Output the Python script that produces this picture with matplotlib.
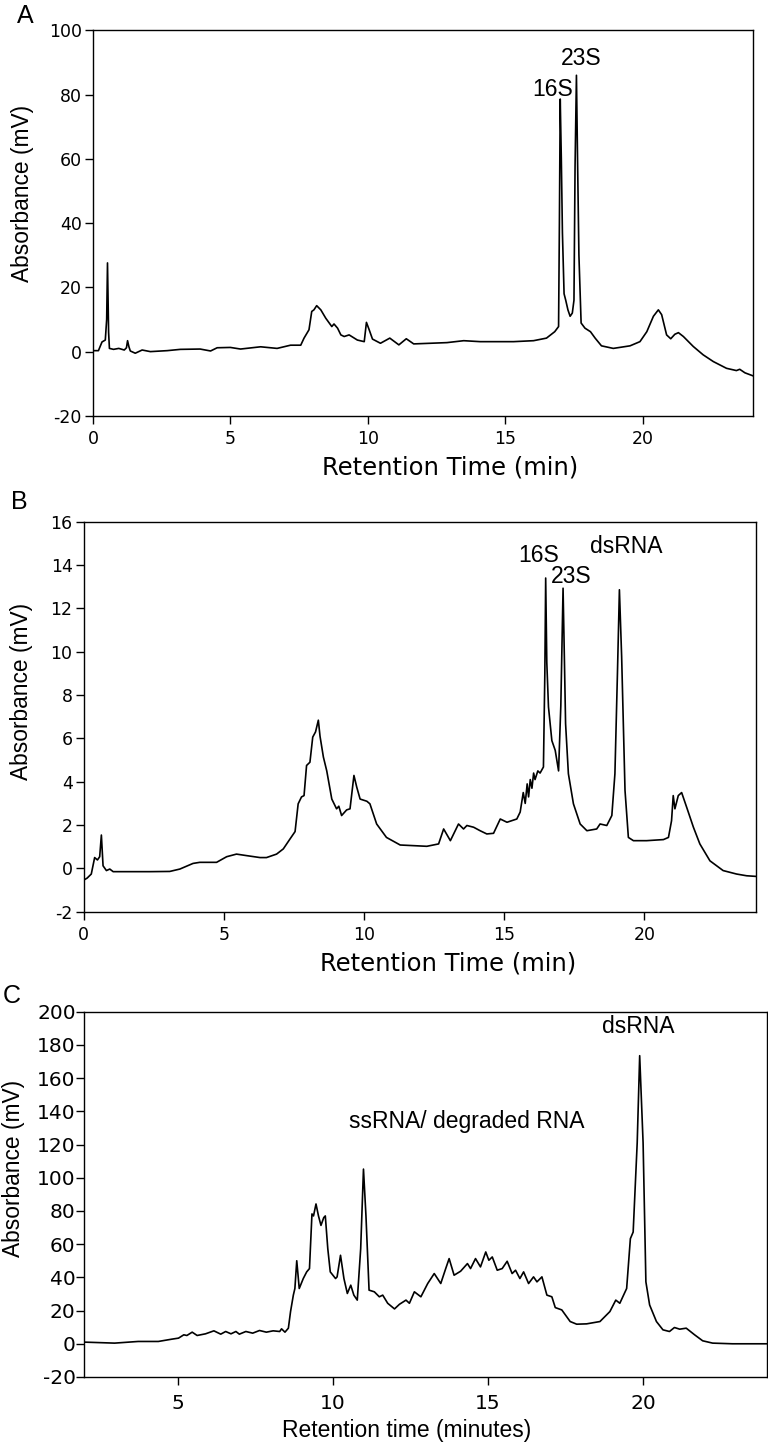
import numpy as np
import matplotlib.pyplot as plt

plt.rcParams['font.family'] = ['Liberation Sans', 'DejaVu Sans']
plt.rcParams['axes.unicode_minus'] = False

# panel A: retention time (min) / absorbance (mV)
a_time = [0.0, 0.2, 0.33, 0.45, 0.5, 0.53, 0.57, 0.6, 0.75, 0.94, 1.14, 1.22, 1.26, 1.31, 1.36, 1.54, 1.79,
          2.09, 2.7, 3.18, 3.9, 4.28, 4.52, 5.0, 5.37, 6.1, 6.7, 7.19, 7.56, 7.68, 7.86, 7.96, 8.04, 8.14,
          8.29, 8.47, 8.69, 8.77, 8.9, 9.02, 9.14, 9.32, 9.62, 9.87, 9.95, 10.05, 10.17, 10.46, 10.8,
          11.13, 11.4, 11.67, 12.28, 12.88, 13.49, 14.09, 14.7, 15.3, 16.03, 16.5, 16.8, 16.94, 16.97,
          17.0, 17.04, 17.08, 17.14, 17.2, 17.28, 17.36, 17.44, 17.5, 17.54, 17.59, 17.63, 17.68, 17.76,
          17.9, 18.1, 18.27, 18.5, 18.93, 19.54, 19.9, 20.15, 20.39, 20.57, 20.69, 20.87, 21.02, 21.17,
          21.3, 21.48, 21.84, 22.2, 22.57, 23.05, 23.41, 23.53, 23.72, 24.0]
a_abs = [0.3, 0.3, 3.0, 3.6, 10.0, 27.6, 6.0, 1.0, 0.7, 1.0, 0.5, 1.2, 3.4, 1.5, 0.2, -0.5, 0.5,
         0.0, 0.3, 0.7, 0.8, 0.2, 1.2, 1.3, 0.8, 1.5, 1.0, 2.0, 2.0, 4.2, 6.8, 12.5, 13.0, 14.3,
         13.0, 10.4, 7.8, 8.6, 7.3, 5.2, 4.7, 5.2, 3.6, 3.1, 9.1, 6.8, 3.9, 2.6, 4.2,
         2.1, 4.0, 2.4, 2.6, 2.8, 3.4, 3.1, 3.1, 3.1, 3.4, 4.2, 6.2, 7.8, 40.0,
         78.6, 60.0, 37.0, 18.0, 16.0, 13.0, 11.0, 12.0, 16.0, 57.8, 86.0, 60.0, 30.0, 8.9,
         7.3, 6.2, 4.2, 1.8, 1.0, 1.8, 3.1, 6.2, 11.0, 13.0, 11.5, 5.2, 4.0, 5.4,
         5.9, 4.7, 1.6, -1.0, -3.1, -5.2, -5.9, -5.5, -6.6, -7.5]

# panel B
b_time = [0.0, 0.12, 0.27, 0.39, 0.49, 0.57, 0.63, 0.69, 0.81, 0.93, 1.05, 1.76, 2.36, 3.07, 3.43, 3.9,
          4.14, 4.74, 5.1, 5.45, 5.81, 6.29, 6.52, 6.88, 7.12, 7.36, 7.54, 7.65, 7.77, 7.86, 7.95, 8.07,
          8.17, 8.27, 8.37, 8.43, 8.55, 8.67, 8.85, 9.02, 9.1, 9.2, 9.38, 9.5, 9.64, 9.74, 9.86, 10.1,
          10.21, 10.45, 10.8, 11.29, 11.77, 12.24, 12.66, 12.84, 13.08, 13.37, 13.55, 13.67, 13.91,
          14.14, 14.38, 14.62, 14.86, 15.1, 15.45, 15.57, 15.68, 15.75, 15.82, 15.87, 15.93, 15.99,
          16.05, 16.1, 16.2, 16.28, 16.4, 16.45, 16.48, 16.52, 16.58, 16.7, 16.82, 16.94, 17.02, 17.1,
          17.15, 17.19, 17.29, 17.47, 17.71, 17.95, 18.3, 18.42, 18.66, 18.84, 18.95, 19.04, 19.11,
          19.19, 19.31, 19.43, 19.61, 20.08, 20.68, 20.86, 20.97, 21.03, 21.09, 21.21, 21.33, 21.51,
          21.75, 21.98, 22.34, 22.81, 23.29, 23.65, 24.0]
b_abs = [-0.54, -0.45, -0.26, 0.5, 0.39, 0.54, 1.54, 0.12, -0.1, -0.03, -0.15, -0.15, -0.15, -0.14,
         -0.03, 0.23, 0.28, 0.28, 0.54, 0.66, 0.59, 0.5, 0.5, 0.66, 0.9, 1.36, 1.7, 2.98, 3.3, 3.36,
         4.75, 4.9, 6.06, 6.3, 6.84, 6.1, 5.14, 4.5, 3.2, 2.75, 2.87, 2.44, 2.7, 2.75, 4.29, 3.75, 3.2,
         3.1, 2.98, 2.05, 1.43, 1.08, 1.05, 1.02, 1.13, 1.82, 1.28, 2.05, 1.82, 1.98, 1.9, 1.74, 1.59,
         1.62, 2.28, 2.13, 2.28, 2.6, 3.5, 3.0, 3.9, 3.3, 4.1, 3.7, 4.4, 4.1, 4.5, 4.4, 4.68, 9.0,
         13.4, 9.5, 7.45, 5.9, 5.45, 4.5, 7.5, 12.93, 9.5, 6.68, 4.37, 2.98, 2.05, 1.74, 1.82, 2.05,
         1.98, 2.44, 4.37, 9.0, 12.86, 9.77, 3.6, 1.43, 1.28, 1.28, 1.33, 1.43, 2.2, 3.36, 2.75, 3.36,
         3.5, 2.82, 1.9, 1.13, 0.35, -0.1, -0.26, -0.34, -0.37]

# panel C
c_time = [2.0, 2.97, 3.73, 4.38, 4.82, 5.03, 5.2, 5.3, 5.47, 5.63, 5.9, 6.17, 6.39, 6.55, 6.72, 6.88,
          6.99, 7.2, 7.42, 7.64, 7.86, 8.08, 8.29, 8.35, 8.46, 8.57, 8.64, 8.73, 8.78, 8.84, 8.92, 9.05,
          9.16, 9.25, 9.33, 9.38, 9.46, 9.54, 9.62, 9.71, 9.76, 9.84, 9.92, 10.09, 10.14, 10.25, 10.36,
          10.47, 10.58, 10.68, 10.79, 10.9, 10.99, 11.07, 11.17, 11.34, 11.5, 11.61, 11.77, 11.99,
          12.15, 12.36, 12.47, 12.63, 12.84, 13.06, 13.27, 13.48, 13.64, 13.75, 13.91, 14.12, 14.34,
          14.44, 14.6, 14.76, 14.93, 15.03, 15.14, 15.3, 15.46, 15.62, 15.78, 15.89, 16.03, 16.15,
          16.31, 16.47, 16.58, 16.74, 16.9, 17.06, 17.17, 17.38, 17.65, 17.86, 18.18, 18.61, 18.93,
          19.12, 19.25, 19.47, 19.59, 19.68, 19.81, 19.89, 20.0, 20.09, 20.21, 20.43, 20.64, 20.85,
          21.01, 21.18, 21.39, 21.66, 21.92, 22.24, 22.88, 24.0]
c_abs = [1.0, 0.4, 1.4, 1.4, 2.8, 3.4, 5.4, 5.0, 7.0, 5.0, 6.0, 7.8, 5.8, 7.4, 6.0, 7.4,
         5.8, 7.4, 6.4, 8.0, 7.0, 7.8, 7.4, 9.0, 7.0, 9.4, 19.4, 29.3, 33.3, 50.0, 33.3, 39.3,
         43.3, 45.3, 78.2, 77.0, 84.2, 77.0, 71.3, 76.0, 77.0, 57.3, 43.3, 39.3, 40.3, 53.3, 39.3,
         30.3, 35.3, 29.3, 26.3, 57.3, 105.2, 77.0, 32.3, 31.3, 28.3, 29.3, 24.4, 21.0,
         23.8, 26.3, 24.4, 31.3, 28.3, 36.3, 42.3, 36.3, 45.3, 51.3, 41.3, 43.7, 48.3,
         45.3, 51.3, 46.3, 55.3, 50.3, 52.3, 44.3, 45.3, 49.7, 42.3, 44.3, 39.3, 43.3,
         36.3, 40.3, 37.3, 40.3, 29.3, 28.3, 21.8, 20.4, 13.4, 11.8, 12.0, 13.4, 19.4,
         26.3, 24.4, 33.3, 63.3, 67.3, 121.0, 173.5, 121.0, 37.3, 23.4, 13.4, 8.4, 7.4,
         9.8, 8.8, 9.4, 5.4, 1.8, 0.4, 0.0, 0.0]

fig = plt.figure(figsize=(7.68, 14.44), dpi=100)


def style(ax, tick_size=12.5, xpad=5, ypad=2.5):
    ax.tick_params(direction='out', length=5.5, width=1, labelsize=tick_size,
                   labelfontfamily='DejaVu Sans', top=False, right=False)
    ax.tick_params(axis='x', pad=xpad)
    ax.tick_params(axis='y', pad=ypad)
    for s in ax.spines.values():
        s.set_linewidth(1)


# A
axA = fig.add_axes([0.121, 0.712, 0.859, 0.267])
axA.plot(a_time, a_abs, color='black', lw=1.2)
axA.set_xlim(0, 24)
axA.set_ylim(-20, 100)
axA.set_xticks([0, 5, 10, 15, 20])
axA.set_yticks(np.arange(-20, 101, 20))
axA.set_xlabel('Retention Time (min)', fontsize=17.5, family='DejaVu Sans')
axA.set_ylabel('Absorbance (mV)', fontsize=16.4)
axA.xaxis.set_label_coords(0.542, -0.104)
axA.yaxis.set_label_coords(-0.089, 0.576)
axA.text(16.72, 81.7, '16S', fontsize=16.5, ha='center', va='center')
axA.text(17.75, 91.3, '23S', fontsize=16.5, ha='center', va='center')
style(axA)
fig.text(0.0326, 0.989, 'A', fontsize=18, ha='center', va='center')

# B
axB = fig.add_axes([0.109, 0.3686, 0.876, 0.2701])
axB.plot(b_time, b_abs, color='black', lw=1.2)
axB.set_xlim(0, 24)
axB.set_ylim(-2, 16)
axB.set_xticks([0, 5, 10, 15, 20])
axB.set_yticks(np.arange(-2, 17, 2))
axB.set_xlabel('Retention Time (min)', fontsize=17.5, family='DejaVu Sans')
axB.set_ylabel('Absorbance (mV)', fontsize=16.4)
axB.xaxis.set_label_coords(0.541, -0.103)
axB.yaxis.set_label_coords(-0.076, 0.566)
axB.text(16.24, 14.45, '16S', fontsize=16.5, ha='center', va='center')
axB.text(17.4, 13.48, '23S', fontsize=16.5, ha='center', va='center')
axB.text(19.35, 14.87, 'dsRNA', fontsize=16.5, ha='center', va='center')
style(axB)
fig.text(0.0247, 0.6524, 'B', fontsize=18, ha='center', va='center')

# C
axC = fig.add_axes([0.110, 0.0464, 0.889, 0.253])
axC.plot(c_time, c_abs, color='black', lw=1.2)
axC.set_xlim(2, 24)
axC.set_ylim(-20, 200)
axC.set_xticks([5, 10, 15, 20])
axC.set_yticks(np.arange(-20, 201, 20))
axC.set_xlabel('Retention time (minutes)', fontsize=16.5)
axC.set_ylabel('Absorbance (mV)', fontsize=16.4)
axC.xaxis.set_label_coords(0.472, -0.114)
axC.yaxis.set_label_coords(-0.087, 0.570)
axC.text(14.32, 133.6, 'ssRNA/ degraded RNA', fontsize=16.5, ha='center', va='center')
axC.text(19.84, 191.1, 'dsRNA', fontsize=16.5, ha='center', va='center')
style(axC, tick_size=14.5, xpad=7, ypad=0.8)
fig.text(0.0156, 0.3102, 'C', fontsize=18, ha='center', va='center')

fig.savefig('out.png', dpi=100)
